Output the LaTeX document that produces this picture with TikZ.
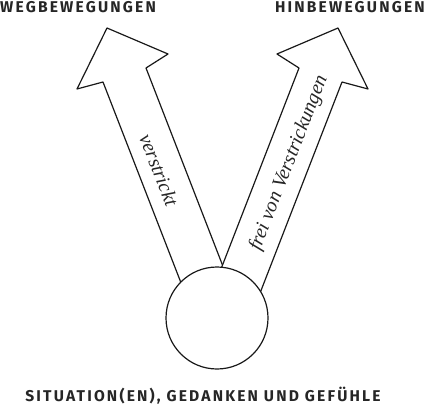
\documentclass[tikz,border=0pt]{standalone}
\usepackage{fontspec}
\newfontfamily\titlefont{Fira Sans}[LetterSpace=14]
\newfontfamily\labelfont{Liberation Serif}[ItalicFont={Liberation Serif Italic}]
\begin{document}
\begin{tikzpicture}[x=1pt,y=-1pt,
  arrowshape/.style={draw=black!90, fill=white, line width=1.2pt, line join=round},
  ball/.style={circle, draw=black!90, fill=white, line width=1.2pt, minimum size=102pt, inner sep=0pt},
  title/.style={font=\titlefont\bfseries\fontsize{15.6}{17}\selectfont, text=black!85, inner sep=0pt},
  lbl/.style={font=\labelfont\itshape\fontsize{20}{23}\selectfont, text=black!85, inner sep=0pt}]
\useasboundingbox (0,0) rectangle (425,406);
% left arrow (Wegbewegungen)
\draw[arrowshape] (190,306) -- (103,82) -- (77,89) -- (107,28) -- (168,54) -- (146,68) -- (231,287) -- cycle;
% right arrow (Hinbewegungen)
\draw[arrowshape] (255,306) -- (342,82) -- (368,89) -- (338,28) -- (277,54) -- (299,68) -- (214,287) -- cycle;
% circle
\node[ball] (c) at (217,318) {};
% labels in arrows
\node[lbl, rotate=-68.77] (l1) at (159,170) {verstrickt};
\node[lbl, rotate=68.77] (l2) at (289,163) {frei von Verstrickungen};
% titles
\node[title, anchor=base west] (t1) at (0,12.7) {WEGBEWEGUNGEN};
\node[title, anchor=base east] (t2) at (425,13) {HINBEWEGUNGEN};
\node[title, anchor=base] (t3) at (203,401.7) {SITUATION(EN), GEDANKEN UND GEFÜHLE};
\end{tikzpicture}
\end{document}
